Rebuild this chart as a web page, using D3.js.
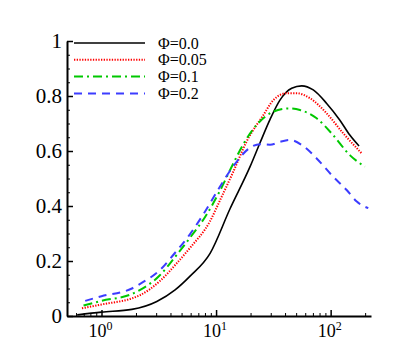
<!DOCTYPE html>
<html>
<head>
<meta charset="utf-8">
<script src="https://cdn.jsdelivr.net/npm/d3@7"></script>
<style>
  body { margin: 0; background: #fff; }
  svg { display: block; font-family: "Liberation Serif", serif; }
</style>
</head>
<body>
<svg id="chart" width="407" height="362"></svg>
<script>
// values
const legendLabels = ['Φ=0.0', 'Φ=0.05', 'Φ=0.1', 'Φ=0.2'];

const xPhi0 = [0.614, 1.0, 1.84, 3.04, 4.39, 5.93, 8.87, 13.24, 19.8, 24.2, 29.6, 36.1, 45.7, 55.9, 70.5, 92.3, 120, 147, 177];
const yPhi0 = [0.004, 0.014, 0.024, 0.053, 0.095, 0.145, 0.228, 0.39, 0.543, 0.63, 0.715, 0.785, 0.828, 0.837, 0.822, 0.773, 0.713, 0.658, 0.618];

const xPhi005 = [0.675, 1.0, 1.84, 2.175, 3.25, 4.54, 5.93, 8.87, 10.8, 14.15, 18.5, 25.8, 31.6, 41.3, 50.5, 66, 92.3, 129, 186];
const yPhi005 = [0.028, 0.042, 0.064, 0.076, 0.128, 0.192, 0.248, 0.345, 0.42, 0.525, 0.635, 0.73, 0.785, 0.81, 0.81, 0.792, 0.737, 0.664, 0.592];

const xPhi01 = [0.697, 1.0, 1.84, 2.175, 3.25, 4.39, 5.93, 8.02, 10.8, 14.15, 17.3, 22.6, 31.6, 42.7, 54, 75.5, 105, 147, 199];
const yPhi01 = [0.038, 0.055, 0.08, 0.095, 0.149, 0.215, 0.285, 0.36, 0.455, 0.555, 0.625, 0.695, 0.743, 0.755, 0.749, 0.719, 0.658, 0.585, 0.543];

const xPhi02 = [0.721, 1.0, 1.84, 2.175, 3.25, 4.39, 5.93, 8.02, 10.8, 14.15, 19.8, 24.2, 29.6, 36.1, 44.2, 57.7, 75.5, 105, 138, 169, 213];
const yPhi02 = [0.055, 0.072, 0.1, 0.117, 0.168, 0.23, 0.298, 0.38, 0.47, 0.545, 0.612, 0.625, 0.623, 0.633, 0.64, 0.618, 0.573, 0.507, 0.458, 0.416, 0.392];

const yTicks = [0, 0.2, 0.4, 0.6, 0.8, 1];
const xMajorTicks = [1, 10, 100];

const seriesX = [xPhi0, xPhi005, xPhi01, xPhi02];
const seriesY = [yPhi0, yPhi005, yPhi01, yPhi02];
const colors = ['#000000', '#ff0000', '#00c800', '#3c3cff'];
const dashes = [null, '1.3,1.4', '9,4,2,4', '8,6'];
const widths = [1.6, 2, 2, 2];

const width = 407, height = 362;
const margin = { top: 41, right: 36, bottom: 46, left: 67 };

const svg = d3.select('#chart');

const xScale = d3.scaleLog()
    .domain([0.5, 225])
    .range([margin.left, width - margin.right]);
const yScale = d3.scaleLinear()
    .domain([0, 1])
    .range([height - margin.bottom, margin.top]);

// minor ticks every 0.05 on y, 2..9 per decade on x
const yMinor = d3.range(0, 1.0001, 0.05).filter((v) => !yTicks.some((t) => Math.abs(t - v) < 1e-6));
const xMinor = [];
[0.1, 1, 10, 100].forEach((d) => {
    for (let k = 2; k <= 9; k++) {
        const v = d * k;
        if (v >= 0.5 && v <= 225) xMinor.push(v);
    }
});

// lines
const line = d3.line()
    .x((d) => xScale(d[0]))
    .y((d) => yScale(d[1]))
    .curve(d3.curveMonotoneX);

seriesX.forEach((xs, i) => {
    const pts = xs.map((x, j) => [x, seriesY[i][j]]);
    svg.append('path')
        .attr('d', line(pts))
        .attr('fill', 'none')
        .attr('stroke', colors[i])
        .attr('stroke-width', widths[i])
        .attr('stroke-dasharray', dashes[i]);
});

// y axis
const yAxisG = svg.append('g')
    .attr('transform', `translate(${margin.left},0)`)
    .call(d3.axisLeft(yScale).tickValues(yTicks).tickSize(-6).tickSizeOuter(0).tickPadding(5)
        .tickFormat((v) => d3.format('')(v)));
yAxisG.select('.domain').attr('stroke-width', 2);
yAxisG.selectAll('line').attr('stroke-width', 1.5);
yAxisG.selectAll('text').attr('font-size', 21).attr('fill', '#000')
    .attr('font-family', '"Liberation Serif", serif');

svg.append('g')
    .attr('transform', `translate(${margin.left},0)`)
    .call(d3.axisLeft(yScale).tickValues(yMinor).tickSize(-3).tickSizeOuter(0).tickFormat(''))
    .call((g) => g.select('.domain').remove())
    .selectAll('line').attr('stroke-width', 1);

// x axis
const xAxisG = svg.append('g')
    .attr('transform', `translate(0,${height - margin.bottom})`)
    .call(d3.axisBottom(xScale).tickValues(xMajorTicks).tickSize(-6).tickSizeOuter(0).tickFormat(''));
xAxisG.select('.domain').attr('stroke-width', 2);
xAxisG.selectAll('line').attr('stroke-width', 1.5);

svg.append('g')
    .attr('transform', `translate(0,${height - margin.bottom})`)
    .call(d3.axisBottom(xScale).tickValues(xMinor).tickSize(-3).tickSizeOuter(0).tickFormat(''))
    .call((g) => g.select('.domain').remove())
    .selectAll('line').attr('stroke-width', 1);

// 10^n labels
const xLab = svg.append('g');
xMajorTicks.forEach((v) => {
    const t = xLab.append('text')
        .attr('x', xScale(v) - 1)
        .attr('y', height - margin.bottom + 21)
        .attr('text-anchor', 'middle')
        .attr('font-size', 18)
        .attr('fill', '#000');
    t.append('tspan').text('10');
    t.append('tspan').attr('dy', -7).attr('font-size', 12).text(Math.round(Math.log10(v)));
});

// legend
const legend = svg.append('g');
legendLabels.forEach((lab, i) => {
    const y = 43 + i * 16.8;
    legend.append('line')
        .attr('x1', 74).attr('x2', 145)
        .attr('y1', y).attr('y2', y)
        .attr('stroke', colors[i])
        .attr('stroke-width', widths[i])
        .attr('stroke-dasharray', dashes[i]);
    legend.append('text')
        .attr('x', 158).attr('y', y + 5.5)
        .attr('font-size', 16)
        .attr('fill', '#000')
        .text(lab);
});
</script>
</body>
</html>
